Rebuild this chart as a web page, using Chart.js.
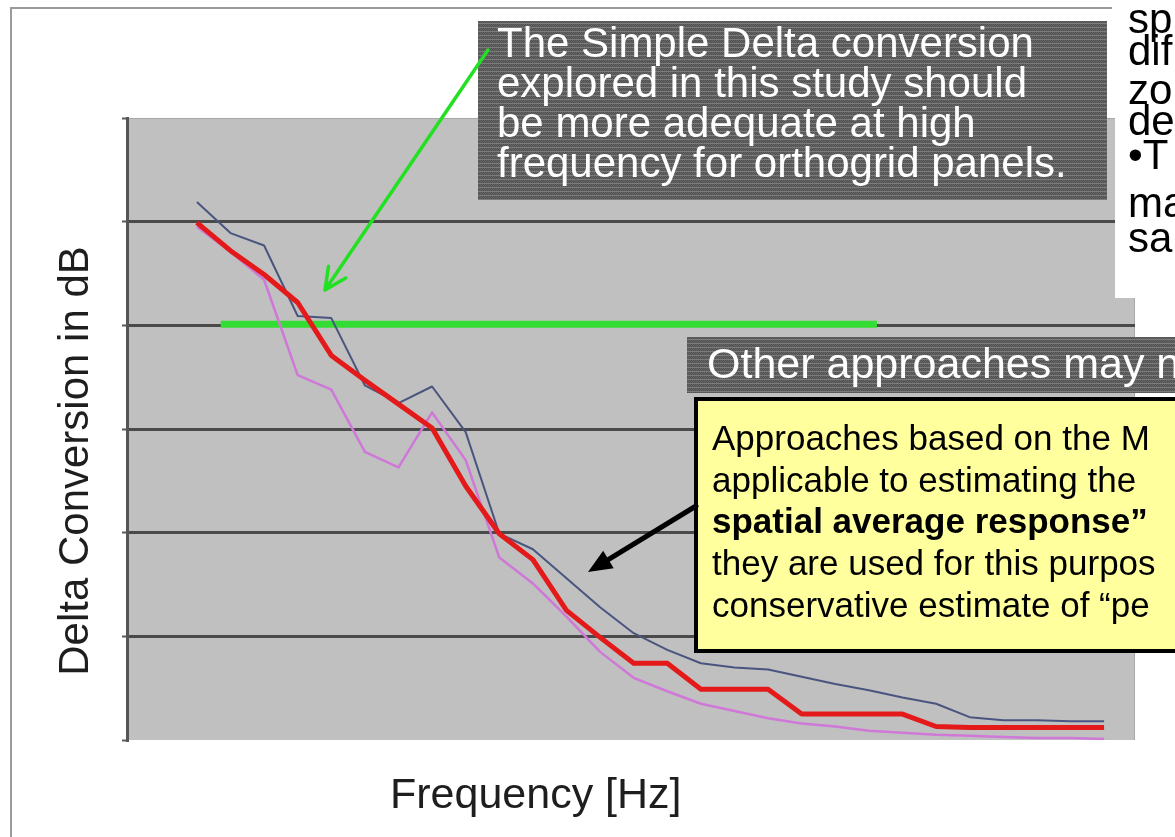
<!DOCTYPE html>
<html>
<head>
<meta charset="utf-8">
<script src="https://cdn.jsdelivr.net/npm/chart.js@4.4.1/dist/chart.umd.min.js"></script>
<style>
  html, body { margin: 0; padding: 0; background: #fff; overflow: hidden; }
</style>
</head>
<body>
<canvas id="chart" width="1175" height="837"></canvas>
<script>
// ─── Data (1/3-octave band index vs. delta in dB) ───────────────────────────
const bands = [0, 1, 2, 3, 4, 5, 6, 7, 8, 9, 10, 11, 12, 13, 14, 15, 16, 17, 18, 19, 20, 21, 22, 23, 24, 25, 26, 27];

const deltaUpper  = [5.19, 4.89, 4.77, 4.09, 4.07, 3.42, 3.25, 3.41, 2.97, 1.99, 1.84, 1.56, 1.28, 1.03,
                     0.87, 0.74, 0.70, 0.68, 0.61, 0.54, 0.48, 0.41, 0.35, 0.22, 0.19, 0.19, 0.18, 0.18];
const deltaSimple = [4.99, 4.72, 4.49, 4.22, 3.71, 3.47, 3.24, 3.01, 2.45, 1.99, 1.74, 1.25, 0.99, 0.74,
                     0.74, 0.49, 0.49, 0.49, 0.25, 0.25, 0.25, 0.25, 0.13, 0.12, 0.12, 0.12, 0.12, 0.12];
const deltaLower  = [4.95, 4.71, 4.44, 3.52, 3.38, 2.78, 2.63, 3.16, 2.70, 1.76, 1.51, 1.19, 0.85, 0.60,
                     0.47, 0.35, 0.28, 0.21, 0.16, 0.13, 0.09, 0.07, 0.05, 0.04, 0.03, 0.02, 0.02, 0.01];

const highFreqBands = [0.71, 20.24];
const highFreqLevel = [4.01, 4.01];

const yTicks = [0, 1, 2, 3, 4, 5, 6];

const FONT = '"Liberation Sans", Arial, Helvetica, sans-serif';

function pts(xs, ys) {
  return xs.map((x, i) => ({ x, y: ys[i] }));
}

// ─── Helpers for the slide overlays ─────────────────────────────────────────
let darkPattern = null;
function getDarkPattern(ctx) {
  if (darkPattern) return darkPattern;
  const c = document.createElement('canvas');
  c.width = 2; c.height = 4;
  const p = c.getContext('2d');
  p.fillStyle = '#505050'; p.fillRect(0, 0, 2, 4);
  p.fillStyle = '#666666'; p.fillRect(0, 0, 1, 1); p.fillRect(1, 1, 1, 1); p.fillRect(0, 2, 1, 1);
  p.fillStyle = '#7c7c7c'; p.fillRect(0, 3, 2, 1);
  darkPattern = ctx.createPattern(c, 'repeat');
  return darkPattern;
}

function arrow(ctx, x1, y1, x2, y2, color, width, head) {
  const ang = Math.atan2(y2 - y1, x2 - x1);
  ctx.save();
  ctx.strokeStyle = color; ctx.fillStyle = color; ctx.lineWidth = width; ctx.lineCap = 'round';
  ctx.beginPath();
  ctx.moveTo(x1, y1);
  ctx.lineTo(x2 - Math.cos(ang) * head * 0.6, y2 - Math.sin(ang) * head * 0.6);
  ctx.stroke();
  ctx.beginPath();
  ctx.moveTo(x2, y2);
  ctx.lineTo(x2 - head * Math.cos(ang - 0.4), y2 - head * Math.sin(ang - 0.4));
  ctx.lineTo(x2 - head * Math.cos(ang + 0.4), y2 - head * Math.sin(ang + 0.4));
  ctx.closePath();
  ctx.fill();
  ctx.restore();
}

function openArrow(ctx, x1, y1, x2, y2, color, width, head) {
  const ang = Math.atan2(y2 - y1, x2 - x1);
  ctx.save();
  ctx.strokeStyle = color; ctx.lineWidth = width; ctx.lineCap = 'round'; ctx.lineJoin = 'round';
  ctx.beginPath();
  ctx.moveTo(x1, y1); ctx.lineTo(x2, y2);
  ctx.moveTo(x2 - head * Math.cos(ang - 0.45), y2 - head * Math.sin(ang - 0.45));
  ctx.lineTo(x2, y2);
  ctx.lineTo(x2 - head * Math.cos(ang + 0.45), y2 - head * Math.sin(ang + 0.45));
  ctx.stroke();
  ctx.restore();
}

const slidePlugin = {
  id: 'slide',
  beforeDraw(chart) {
    const { ctx, chartArea: a } = chart;
    ctx.save();
    ctx.fillStyle = '#ffffff';
    ctx.fillRect(0, 0, chart.width, chart.height);
    // outer frame of the picture
    ctx.strokeStyle = '#9a9a9a'; ctx.lineWidth = 2;
    ctx.beginPath();
    ctx.moveTo(11, 837); ctx.lineTo(11, 8); ctx.lineTo(1112, 8);
    ctx.stroke();
    // plot background
    ctx.fillStyle = '#c0c0c0';
    ctx.fillRect(a.left, a.top, a.right - a.left, a.bottom - a.top);
    ctx.strokeStyle = '#a8a8a8'; ctx.lineWidth = 1;
    ctx.beginPath(); ctx.moveTo(a.left, a.top + 0.5); ctx.lineTo(a.right, a.top + 0.5);
    ctx.moveTo(a.right - 0.5, a.top); ctx.lineTo(a.right - 0.5, a.bottom); ctx.stroke();
    ctx.restore();
  },
  afterDraw(chart) {
    const { ctx } = chart;
    ctx.save();

    // axis titles
    ctx.fillStyle = '#1e1e1e';
    ctx.font = `43px ${FONT}`;
    ctx.textBaseline = 'alphabetic';
    ctx.textAlign = 'left';
    ctx.fillText('Frequency [Hz]', 390, 808);
    ctx.save();
    ctx.translate(88, 461);
    ctx.rotate(-Math.PI / 2);
    ctx.textAlign = 'center';
    ctx.font = `42px ${FONT}`;
    ctx.fillText('Delta Conversion in dB', 0, 0);
    ctx.restore();

    // top dark callout
    ctx.fillStyle = getDarkPattern(ctx);
    ctx.fillRect(478, 21, 629, 179);
    ctx.fillStyle = '#ffffff';
    ctx.font = `42px ${FONT}`;
    ['The Simple Delta conversion', 'explored in this study should',
     'be more adequate at high', 'frequency for orthogrid panels.']
      .forEach((t, i) => ctx.fillText(t, 497, 57 + i * 40));
    openArrow(ctx, 488, 50, 325, 290, '#22e022', 3.5, 24);

    // right-hand clipped text box
    ctx.fillStyle = '#ffffff';
    ctx.fillRect(1115, 0, 60, 298);
    ctx.fillStyle = '#000000';
    ctx.font = `42px ${FONT}`;
    const side = [['sp', 33], ['dif', 65], ['zo', 104], ['de', 135], ['\u2022T', 169], ['ma', 217], ['sa', 252]];
    side.forEach(([t, y]) => ctx.fillText(t, 1128, y));

    // second dark callout
    ctx.fillStyle = getDarkPattern(ctx);
    ctx.fillRect(687, 337, 500, 56);
    ctx.fillStyle = '#ffffff';
    ctx.font = `43px ${FONT}`;
    ctx.fillText('Other approaches may n', 707, 378);

    // yellow note
    ctx.fillStyle = '#ffff9e';
    ctx.fillRect(696, 399, 490, 252);
    ctx.strokeStyle = '#000000'; ctx.lineWidth = 4;
    ctx.strokeRect(696, 399, 490, 252);
    ctx.fillStyle = '#000000';
    ctx.font = `35px ${FONT}`;
    ctx.fillText('Approaches based on the M', 712, 450);
    ctx.fillText('applicable to estimating the', 712, 492);
    ctx.font = `bold 35px ${FONT}`;
    ctx.fillText('spatial average response\u201D', 712, 533);
    ctx.font = `35px ${FONT}`;
    ctx.fillText('they are used for this purpos', 712, 575);
    ctx.fillText('conservative estimate of \u201Cpe', 712, 617);
    arrow(ctx, 696, 506, 588, 572, '#000000', 5, 26);

    ctx.restore();
  }
};

const ctx = document.getElementById('chart');

new Chart(ctx, {
  type: 'line',
  data: {
    datasets: [
      {
        label: 'Simple Delta',
        data: pts(bands, deltaSimple),
        borderColor: '#e41a1a',
        borderWidth: 5,
      },
      {
        label: 'Upper',
        data: pts(bands, deltaUpper),
        borderColor: '#4a557f',
        borderWidth: 2,
      },
      {
        label: 'Lower',
        data: pts(bands, deltaLower),
        borderColor: '#cf78d8',
        borderWidth: 2.5,
      },
      {
        label: 'High frequency',
        data: pts(highFreqBands, highFreqLevel),
        borderColor: '#33dd33',
        borderWidth: 7,
        borderCapStyle: 'butt',
      },
    ],
  },
  options: {
    responsive: false,
    animation: false,
    events: [],
    layout: { padding: { left: 122, top: 118, right: 40, bottom: 97 } },
    elements: {
      point: { radius: 0 },
      line: { tension: 0, fill: false, borderJoinStyle: 'round' },
    },
    plugins: {
      legend: { display: false },
      tooltip: { enabled: false },
    },
    scales: {
      x: {
        type: 'linear',
        min: -2.08, max: 27.92,
        display: false,
      },
      y: {
        min: 0, max: 6,
        afterBuildTicks: s => { s.ticks = yTicks.map(v => ({ value: v })); },
        ticks: { display: false },
        grid: {
          color: c => (c.tick && c.tick.value > 0 && c.tick.value < 6) ? '#4a4a4a' : 'rgba(0,0,0,0)',
          lineWidth: 3,
          tickColor: '#5a5a5a',
          tickLength: 5,
          tickWidth: 2,
        },
        border: { display: true, color: '#555555', width: 3 },
      },
    },
  },
  plugins: [slidePlugin],
});
</script>
</body>
</html>
